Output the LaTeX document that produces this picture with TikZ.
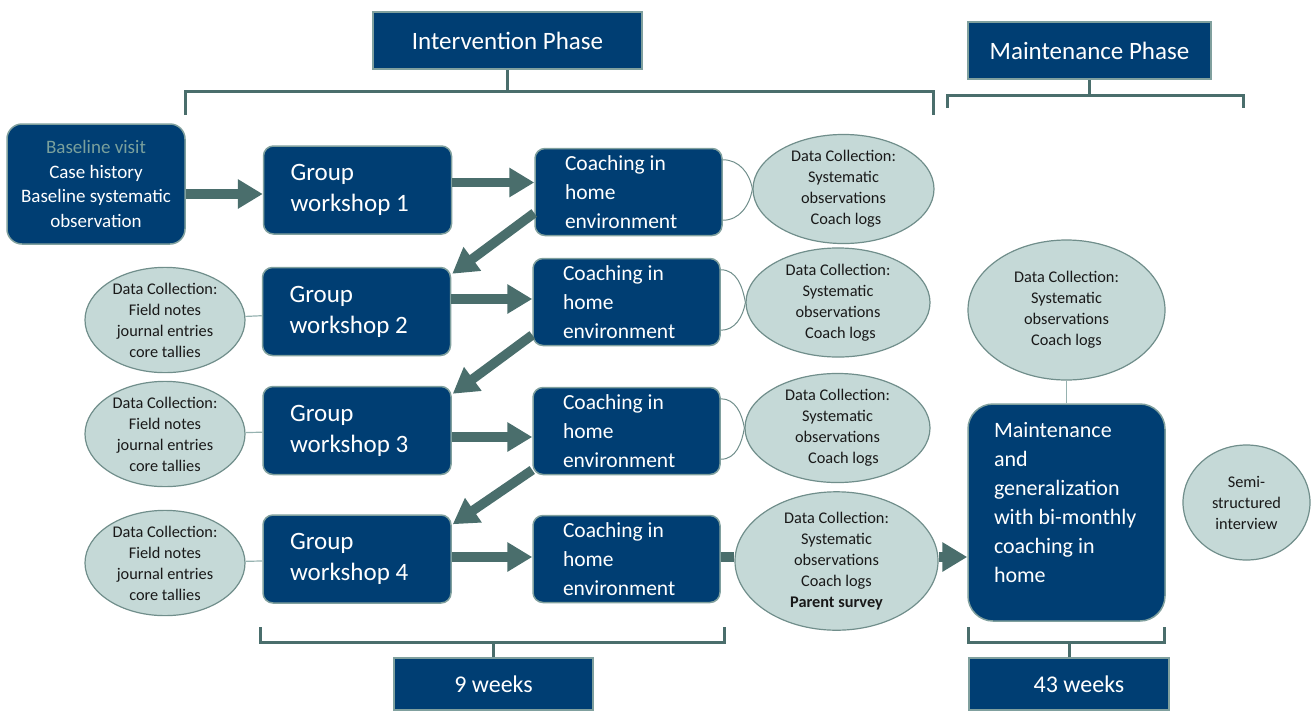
\documentclass[tikz,border=0pt]{standalone}
\usepackage{fontspec}
\setmainfont{Carlito}
\usetikzlibrary{shapes.geometric,arrows.meta}

\definecolor{navy}{RGB}{0,62,115}
\definecolor{slate}{RGB}{74,110,108}
\definecolor{mist}{RGB}{197,217,215}
\definecolor{mistedge}{RGB}{112,142,139}
\definecolor{boxedge}{RGB}{128,160,158}
\definecolor{linkgrey}{RGB}{150,178,176}
\definecolor{paletext}{RGB}{122,160,156}
\definecolor{inkdark}{RGB}{25,25,25}

\tikzset{
  every node/.append style={execute at begin node={\spaceskip=0.226em plus 0.05em\relax}},
  darkbox/.style={fill=navy, draw=boxedge, line width=1.5pt, text=white, inner sep=0pt},
  phasebox/.style={darkbox, font=\fontsize{25}{30}\selectfont},
  stepbox/.style={darkbox, rounded corners=10pt, align=left,
    font=\fontsize{25}{31}\selectfont, minimum width=188pt, minimum height=88pt, text width=134pt},
  coachbox/.style={darkbox, rounded corners=10pt, align=left,
    font=\fontsize{21.5}{29}\selectfont, minimum width=187pt, minimum height=87pt, text width=127pt},
  datablob/.style={ellipse, fill=mist, draw=mistedge, line width=1.2pt, text=inkdark,
    align=center, inner sep=0pt, font=\fontsize{16.3}{21}\selectfont},
  flowarrow/.style={draw=slate, line width=9.5pt, -{Triangle[width=28pt,length=25pt]}},
  flowbar/.style={draw=slate, line width=9.5pt},
  bracket/.style={draw=slate, line width=3pt},
  thinlink/.style={draw=linkgrey, line width=1.2pt},
}

\begin{document}
\begin{tikzpicture}[x=1pt, y=-1pt]
\useasboundingbox (0,0) rectangle (1312,710);

% phase headings
\node[phasebox, minimum width=269pt, minimum height=57pt] (iphase) at (507.5,40.5) {Intervention Phase};
\node[phasebox, minimum width=243pt, minimum height=57pt] (mphase) at (1089.5,50.5) {Maintenance Phase};

% baseline visit
\node[darkbox, rounded corners=15pt, align=center, minimum width=178pt, minimum height=120pt,
      font=\fontsize{19}{24.5}\selectfont] (base) at (96,184)
  {\textcolor{paletext}{Baseline visit}\\Case history\\Baseline systematic\\observation};

% group workshops
\node[stepbox] (gw1) at (357.5,190) {Group\\workshop 1};
\node[stepbox] (gw2) at (356.5,311.5) {Group\\workshop 2};
\node[stepbox] (gw3) at (357,430.5) {Group\\workshop 3};
\node[stepbox] (gw4) at (357,559) {Group\\workshop 4};

% coaching sessions
\node[coachbox] (ch1) at (628.5,192) {Coaching in\\home\\environment};
\node[coachbox] (ch2) at (626.5,302) {Coaching in\\home\\environment};
\node[coachbox] (ch3) at (626.5,431) {Coaching in\\home\\environment};
\node[coachbox] (ch4) at (626.5,559) {Coaching in\\home\\environment};

% data collection after coaching
\node[datablob, minimum width=181pt, minimum height=98pt] (dc1) at (843.5,189)
  {Data Collection:\\Systematic\\observations\\\hspace{5pt}Coach logs};
\node[datablob, minimum width=184pt, minimum height=95pt] (dc2) at (838,302.5)
  {Data Collection:\\Systematic\\observations\\\hspace{5pt}Coach logs};
\node[datablob, minimum width=185pt, minimum height=100pt] (dc3) at (837.5,428)
  {Data Collection:\\Systematic\\observations\\\hspace{12pt}Coach logs};
\node[datablob, minimum width=203pt, minimum height=128pt] (dc4) at (836.5,561)
  {Data Collection:\\Systematic\\observations\\Coach logs\\\textbf{Parent survey}};

% data collection after workshops
\node[datablob, minimum width=160pt, minimum height=104pt] (fw2) at (165,320)
  {Data Collection:\\Field notes\\journal entries\\core tallies};
\node[datablob, minimum width=160pt, minimum height=98pt] (fw3) at (165,434)
  {Data Collection:\\Field notes\\journal entries\\core tallies};
\node[datablob, minimum width=160pt, minimum height=100pt] (fw4) at (165,563)
  {Data Collection:\\Field notes\\journal entries\\core tallies};

% maintenance phase
\node[darkbox, rounded corners=25pt, align=left, minimum width=197pt, minimum height=217pt,
      text width=145pt, font=\fontsize{22}{29}\selectfont] (mbox) at (1066.5,512.5)
  {Maintenance\\and\\generalization\\with bi-monthly\\coaching in\\home\\[-9pt]\mbox{}};
\node[datablob, minimum width=197pt, minimum height=140pt] (dcm) at (1066.5,310)
  {Data Collection:\\Systematic\\observations\\Coach logs};
\node[datablob, minimum width=127pt, minimum height=115pt] (semi) at (1246.5,502.5)
  {Semi-\\structured\\interview};

% durations
\node[phasebox, minimum width=199pt, minimum height=52pt, font=\fontsize{24}{29}\selectfont] (w9) at (493.5,684) {9 weeks};
\node[phasebox, minimum width=200pt, minimum height=52pt, font=\fontsize{24}{29}\selectfont] (w43) at (1069,684) {\hspace{20pt}43 weeks};

% brackets
\draw[bracket] (185,115) -- (185,91) -- (933,91) -- (933,115);
\draw[bracket] (iphase.south) -- (iphase.south |- 0,91);
\draw[bracket] (947,108) -- (947,95) -- (1243,95) -- (1243,108);
\draw[bracket] (mphase.south) -- (mphase.south |- 0,95);
\draw[bracket] (260,627) -- (260,642) -- (724,642) -- (724,627);
\draw[bracket] (w9.north) -- (w9.north |- 0,642);
\draw[bracket] (968,627) -- (968,642) -- (1164,642) -- (1164,627);
\draw[bracket] (w43.north) -- (w43.north |- 0,642);

% main flow
\draw[flowarrow] (base.east |- 0,194) -- (gw1.west |- 0,194);
\draw[flowarrow] (gw1.east |- 0,182.5) -- (ch1.west |- 0,182.5);
\draw[flowarrow] (gw2.east |- 0,299) -- (ch2.west |- 0,299);
\draw[flowarrow] (gw3.east |- 0,437) -- (ch3.west |- 0,437);
\draw[flowarrow] (gw4.east |- 0,557) -- (ch4.west |- 0,557);

\draw[flowarrow] ([yshift=-21pt]ch1.west) -- ([xshift=1pt,yshift=-7pt]gw2.north east);
\draw[flowarrow] ([yshift=-33pt]ch2.west) -- ([xshift=1pt,yshift=-8pt]gw3.north east);
\draw[flowarrow] ([yshift=-39pt]ch3.west) -- ([xshift=1pt,yshift=-10pt]gw4.north east);

\draw[flowbar] (ch4.east |- 0,557) -- (dc4.west |- 0,557);
\draw[flowarrow] (dc4.east |- 0,557) -- (mbox.west |- 0,557);

% links to data collection
\foreach \c/\d in {ch1/dc1, ch2/dc2, ch3/dc3}{
  \draw[draw=mistedge, line width=1pt] ([yshift=-12pt]\c.north east) to[out=0, in=100] (\d.west)
    to[out=-100, in=0] ([yshift=16pt]\c.south east);
}
\draw[thinlink] (fw2) -- (gw2);
\draw[thinlink] (fw3) -- (gw3);
\draw[thinlink] (fw4) -- (gw4);
\draw[thinlink] (dcm) -- (mbox);
\end{tikzpicture}
\end{document}
